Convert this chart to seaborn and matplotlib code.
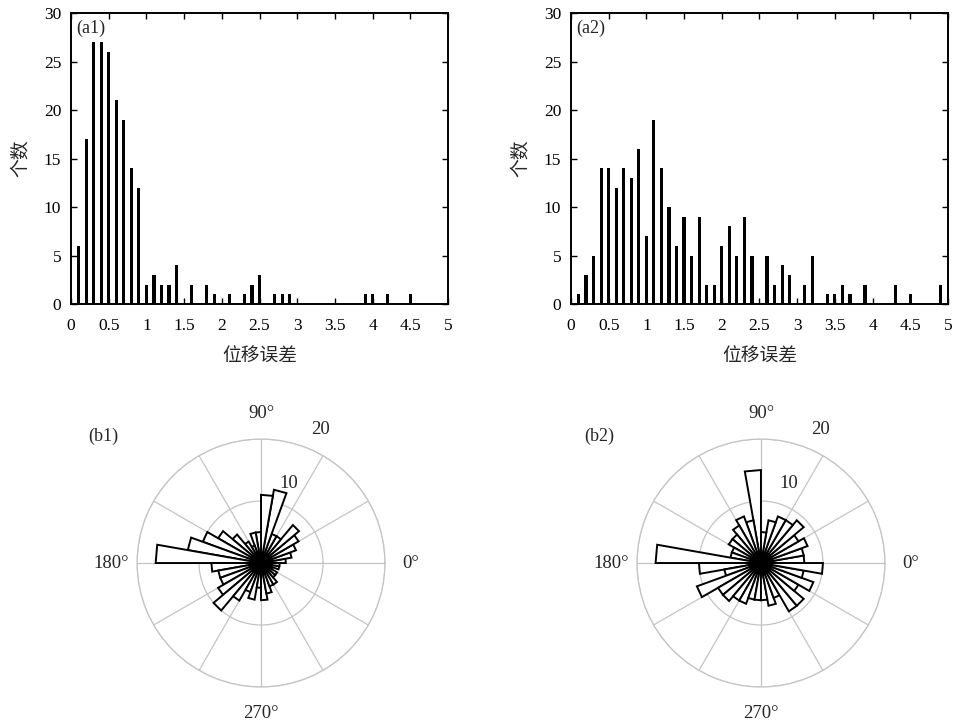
#Library imports
import numpy as np
import matplotlib
matplotlib.use('Agg')
import matplotlib.pyplot as plt
import pandas as pd
import seaborn as sns

# (a1) displacement error histogram: bin centres and counts (empty bins left out)
a1_centres = [0.1, 0.2, 0.3, 0.4, 0.5, 0.6, 0.7, 0.8, 0.9, 1.0, 1.1, 1.2, 1.3, 1.4,
              1.6, 1.8, 1.9, 2.1, 2.3, 2.4, 2.5, 2.7, 2.8, 2.9, 3.9, 4.0, 4.2, 4.5]
a1_counts = [6, 17, 27, 27, 26, 21, 19, 14, 12, 2, 3, 2, 2, 4,
             2, 2, 1, 1, 1, 2, 3, 1, 1, 1, 1, 1, 1, 1]

# (a2) displacement error histogram
a2_centres = [0.1, 0.2, 0.3, 0.4, 0.5, 0.6, 0.7, 0.8, 0.9, 1.0, 1.1, 1.2, 1.3, 1.4,
              1.5, 1.6, 1.7, 1.8, 1.9, 2.0, 2.1, 2.2, 2.3, 2.4, 2.6, 2.7, 2.8, 2.9,
              3.1, 3.2, 3.4, 3.5, 3.6, 3.7, 3.9, 4.3, 4.5, 4.9]
a2_counts = [1, 3, 5, 14, 14, 12, 14, 13, 16, 7, 19, 14, 10, 6,
             9, 5, 9, 2, 2, 6, 8, 5, 9, 5, 5, 2, 4, 3,
             2, 5, 1, 1, 2, 1, 2, 2, 1, 2]

# rose diagrams: 10 degree bins starting at 0, 10, ..., 350 degrees
rose_edges = np.arange(0, 370, 10)
b1_counts = [4, 5, 6, 7, 8, 5, 5, 12, 11,
             5, 5, 3, 4, 6, 8, 10, 12, 17,
             8, 7, 7, 8, 10, 7, 5, 6, 4,
             6, 5, 4, 4, 3, 3, 2, 3, 3]
b2_counts = [7, 7, 8, 7, 9, 8, 8, 7, 5,
             15, 7, 8, 7, 6, 6, 5, 5, 17,
             10, 6, 11, 8, 8, 7, 7, 6, 6,
             6, 7, 6, 9, 9, 7, 9, 7, 10]

x_ticks = [0, 0.5, 1, 1.5, 2, 2.5, 3, 3.5, 4, 4.5, 5]
x_ticklabels = ['0', '0.5', '1', '1.5', '2', '2.5', '3', '3.5', '4', '4.5', '5']
y_ticks = [0, 5, 10, 15, 20, 25, 30]

sns.set_theme(style='ticks')
plt.rcParams['font.family'] = ['Liberation Serif', 'Noto Sans CJK SC']
plt.rcParams['font.size'] = 12
plt.rcParams['axes.unicode_minus'] = False


def draw_hist(ax, centres, counts, tag):
    df = pd.DataFrame({'x': centres, 'n': counts})
    sns.barplot(data=df, x='x', y='n', native_scale=True, width=0.42,
                color='black', saturation=1, linewidth=0, errorbar=None, ax=ax)
    ax.set_xlim(0, 5)
    ax.set_ylim(0, 30)
    ax.set_xticks(x_ticks)
    ax.set_xticklabels(x_ticklabels)
    ax.set_yticks(y_ticks)
    ax.tick_params(direction='in', top=True, right=True, length=4, width=1,
                   labelsize=12.5, colors='black')
    ax.tick_params(axis='x', pad=10)
    ax.tick_params(axis='y', pad=7)
    for s in ax.spines.values():
        s.set_linewidth(1.4)
        s.set_color('black')
    ax.set_xlabel('位移误差', fontsize=13.5)
    ax.set_ylabel('个数', fontsize=13.5)
    ax.xaxis.set_label_coords(0.5, -0.155)
    ax.yaxis.set_label_coords(-0.11, 0.5)
    ax.text(0.013, 0.978, tag, transform=ax.transAxes, ha='left', va='top', fontsize=13)


def draw_rose(ax, counts):
    ax.set_facecolor('white')
    ax.set_axisbelow(True)
    for i, c in enumerate(counts):
        t0 = np.deg2rad(rose_edges[i])
        t1 = np.deg2rad(rose_edges[i + 1])
        ax.fill([0, t0, t1], [0, c, c], facecolor='white', edgecolor='black',
                linewidth=1.4, zorder=3)
    ax.set_rlim(0, 20)
    ax.set_rticks([10, 20])
    ax.set_yticklabels([])
    ax.set_thetagrids(range(0, 360, 30), labels=[''] * 12)
    ax.grid(True, color='#c4c4c4', linewidth=0.9)
    ax.spines['polar'].set_color('#c4c4c4')
    ax.spines['polar'].set_linewidth(0.9)
    for a in [0, 90, 180, 270]:
        ax.text(np.deg2rad(a), 24.2, f'{a}°', ha='center', va='center',
                fontsize=13.5, clip_on=False)
    ax.text(np.deg2rad(71), 13.6, '10', ha='center', va='center', fontsize=13.5, zorder=4)
    ax.text(np.deg2rad(66), 23.5, '20', ha='center', va='center', fontsize=13.5, clip_on=False)


fig = plt.figure(figsize=(9.57, 7.27), dpi=100)
ax1 = fig.add_axes([0.0742, 0.5818, 0.394, 0.400])
ax2 = fig.add_axes([0.5966, 0.5818, 0.394, 0.400])
draw_hist(ax1, a1_centres, a1_counts, '(a1)')
draw_hist(ax2, a2_centres, a2_counts, '(a2)')

ax3 = fig.add_axes([0.1432, 0.055, 0.2591, 0.3411], projection='polar')
ax4 = fig.add_axes([0.6656, 0.055, 0.2591, 0.3411], projection='polar')
draw_rose(ax3, b1_counts)
draw_rose(ax4, b2_counts)

fig.text(0.092, 0.400, '(b1)', ha='left', va='center', fontsize=13)
fig.text(0.611, 0.400, '(b2)', ha='left', va='center', fontsize=13)

fig.savefig('out.png', dpi=100, facecolor='white')
